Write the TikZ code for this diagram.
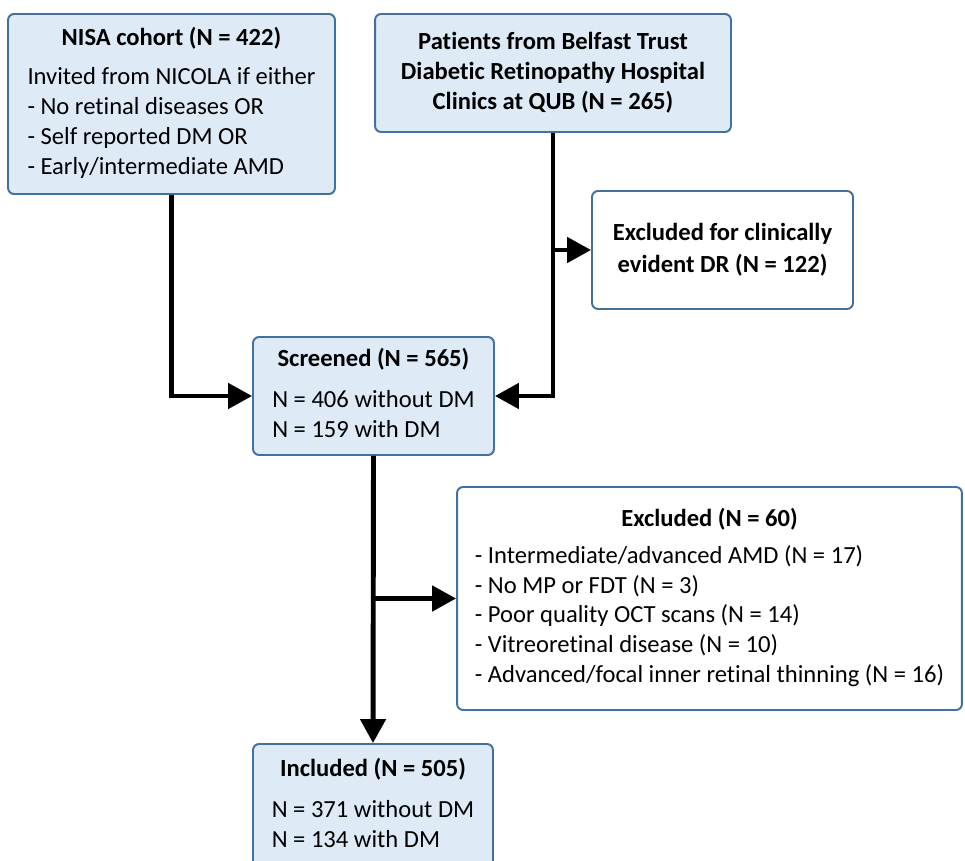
\documentclass[tikz,border=0pt]{standalone}
\usepackage{fontspec}
\setmainfont[Ligatures=NoCommon]{Carlito}
\usepackage{tikz}
\usetikzlibrary{arrows.meta, positioning, calc}

\definecolor{boxfill}{RGB}{222,235,247}
\definecolor{boxline}{RGB}{65,113,156}

\begin{document}
\begin{tikzpicture}[x=0.02cm, y=-0.02cm,
    box/.style={draw=boxline, line width=1.1pt, rounded corners=0.12cm, inner sep=0pt,
        font=\fontsize{14}{17}\selectfont},
    bluebox/.style={box, fill=boxfill},
    whitebox/.style={box, fill=white},
    arr/.style={line width=2.8pt, -{Triangle[length=0.48cm, width=0.5cm]}}
]
\useasboundingbox (0,0) rectangle (965,861);

% Sources
\node[bluebox, minimum width=6.54cm, minimum height=3.6cm] (nisa) at (171.5,104)
    {\begin{tabular}{@{}l@{}}\multicolumn{1}{@{}c@{}}{\textbf{NISA cohort (N = 422)}}\\[5pt]
     Invited from NICOLA if either\\- No retinal diseases OR\\- Self reported DM OR\\- Early/intermediate AMD\end{tabular}};
\node[bluebox, minimum width=7.12cm, minimum height=2.36cm, align=center] (patients) at (553,73)
    {\textbf{Patients from Belfast Trust}\\\textbf{Diabetic Retinopathy Hospital}\\\textbf{Clinics at QUB (N = 265)}};
\node[whitebox, minimum width=5.22cm, minimum height=2.36cm, align=center] (exdr) at (722.5,250)
    {\textbf{Excluded for clinically}\\[1pt]\textbf{evident DR (N = 122)}};

% Screened
\node[bluebox, minimum width=4.82cm, minimum height=2.36cm] (screened) at (373.5,396)
    {\begin{tabular}{@{}l@{}}\multicolumn{1}{@{}c@{}}{\textbf{Screened (N = 565)}}\\[6pt]
     N = 406 without DM\\N = 159 with DM\end{tabular}};

% Exclusions
\node[whitebox, minimum width=10.1cm, minimum height=4.46cm] (ex60) at (709.5,598.5)
    {\begin{tabular}{@{}l@{}}\multicolumn{1}{@{}c@{}}{\textbf{Excluded (N = 60)}}\\[4pt]
     - Intermediate/advanced AMD (N = 17)\\- No MP or FDT (N = 3)\\- Poor quality OCT scans (N = 14)\\- Vitreoretinal disease (N = 10)\\- Advanced/focal inner retinal thinning (N = 16)\end{tabular}};

% Included
\node[bluebox, minimum width=4.8cm, minimum height=2.48cm] (included) at (373,806)
    {\begin{tabular}{@{}l@{}}\multicolumn{1}{@{}c@{}}{\textbf{Included (N = 505)}}\\[6pt]
     N = 371 without DM\\N = 134 with DM\end{tabular}};

% Connections
\coordinate (jdr) at (patients.south |- exdr.west);
\coordinate (jex) at (screened.south |- ex60.west);
\draw[arr] (nisa.south) |- (screened.west);
\draw[arr] (patients.south) |- (screened.east);
\draw[arr] (jdr) -- (exdr.west);
\draw[arr] (screened.south) -- (included.north);
\draw[arr] (jex) -- (ex60.west);

\end{tikzpicture}
\end{document}
